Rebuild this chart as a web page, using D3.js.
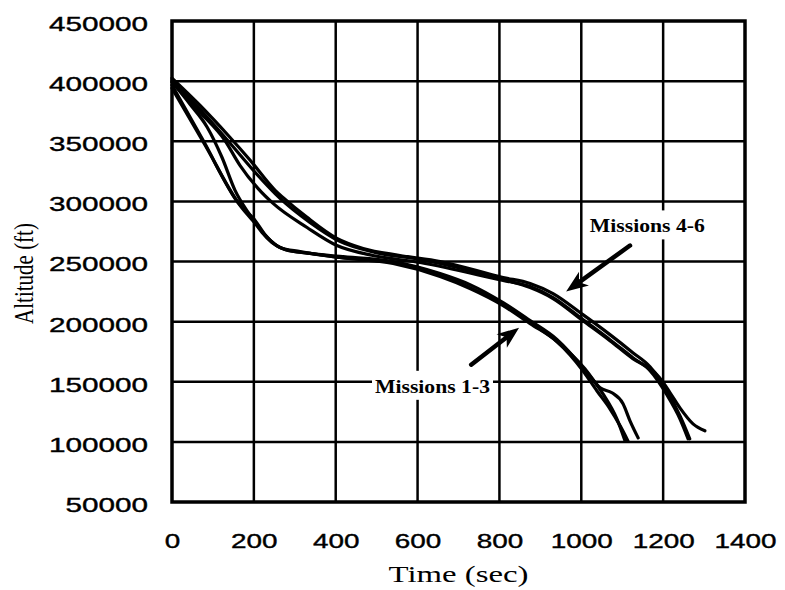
<!DOCTYPE html>
<html>
<head>
<meta charset="utf-8">
<script src="https://cdn.jsdelivr.net/npm/d3@7"></script>
<style>
  body { margin: 0; background: #fff; }
  svg { display: block; }
</style>
</head>
<body>
<svg id="chart" width="785" height="590"></svg>
<script>
// Axis ticks
const xTicks = [0, 200, 400, 600, 800, 1000, 1200, 1400];
const yTicks = [50000, 100000, 150000, 200000, 250000, 300000, 350000, 400000, 450000];

// Re-entry trajectories: [time (sec), altitude (ft)]
const mission1 = [[0,396700],[76,350800],[161,299200],[203,284200],[227,272500],[252,264200],[276,260000],[337,256700],[410,254200],[540,250000],[655,240000],[728,230800],[809,215800],[875,200800],[941,185000],[1004,161700],[1053,140000],[1087,119200],[1107,100800]];
const mission2 = [[0,394200],[81,346700],[166,296700],[208,280000],[235,269200],[264,261700],[313,258300],[410,253300],[540,248300],[655,237500],[728,227500],[809,213300],[875,198300],[941,183300],[1004,159200],[1038,142500],[1070,127500],[1095,113300],[1114,100800]];
const mission3 = [[0,399200],[44,380800],[86,361700],[122,336700],[154,309200],[186,290800],[220,274200],[244,265800],[276,260000],[337,256700],[410,253300],[540,249200],[655,239200],[728,228300],[809,214200],[875,199200],[941,183300],[1009,160800],[1046,145000],[1075,140800],[1102,131700],[1119,117500],[1139,103300]];
const mission4 = [[0,402500],[68,380000],[137,355000],[191,334200],[252,309200],[271,303300],[330,286700],[403,269200],[467,260800],[557,255000],[655,250000],[809,236700],[875,231700],[931,223300],[1004,205800],[1070,189200],[1126,174200],[1168,162500],[1209,142500],[1241,121700],[1265,102500]];
const mission5 = [[0,399200],[68,374200],[129,350800],[166,330000],[210,310800],[247,298300],[330,278300],[403,263300],[491,255000],[606,249200],[809,234200],[875,229200],[931,220000],[1004,201700],[1070,185000],[1126,170000],[1168,159200],[1209,139200],[1241,119200],[1261,102500]];
const mission6 = [[0,400800],[68,376700],[142,348300],[203,324200],[264,302500],[337,282500],[410,266700],[496,257500],[606,251700],[809,235000],[875,228300],[931,219200],[1004,200800],[1070,184200],[1126,169200],[1180,157500],[1197,150800],[1217,140800],[1241,128300],[1273,115000],[1302,109200]];

const missions = [mission1, mission2, mission3, mission4, mission5, mission6];

// Callout labels and the points their arrows run between
const labels = ["Missions 4-6", "Missions 1-3"];
const labelAnchors = [[1021, 274200], [496, 140800]];
const arrowTails = [[1119, 263300], [731, 164200]];
const arrowTips = [[963, 225000], [848, 195000]];

const svg = d3.select("#chart");
const margin = { left: 172, top: 21, right: 40, bottom: 88 };
const W = 785, H = 590;

const x = d3.scaleLinear().domain([0, 1400]).range([margin.left, W - margin.right]);
const y = d3.scaleLinear().domain([50000, 450000]).range([H - margin.bottom, margin.top]);

svg.append("rect").attr("width", W).attr("height", H).attr("fill", "#fff");

// Grid
const grid = svg.append("g").attr("stroke", "#000").attr("stroke-width", 2.5);
grid.selectAll("line.v").data(xTicks.slice(1, -1)).join("line")
  .attr("x1", d => x(d)).attr("x2", d => x(d))
  .attr("y1", y(450000)).attr("y2", y(50000));
grid.selectAll("line.h").data(yTicks.slice(1, -1)).join("line")
  .attr("y1", d => y(d)).attr("y2", d => y(d))
  .attr("x1", x(0)).attr("x2", x(1400));

// Tick labels (plain integers, wide sans)
const tickFont = "'Liberation Sans', Arial, Helvetica, sans-serif";
const fmt = d3.format("d");
const yAxis = d3.axisLeft(y).tickValues(yTicks).tickFormat(fmt).tickSize(0).tickPadding(24);
const gy = svg.append("g").attr("transform", `translate(${x(0)},0)`).call(yAxis);
gy.select(".domain").remove();
gy.selectAll("text")
  .attr("font-family", tickFont).attr("font-size", 21)
  .attr("fill", "#000").attr("stroke", "#000").attr("stroke-width", 0.4)
  .attr("dy", "0.45em")
  .attr("textLength", d => fmt(d).length * 16.5)
  .attr("lengthAdjust", "spacingAndGlyphs");

const xAxis = d3.axisBottom(x).tickValues(xTicks).tickFormat(fmt).tickSize(0).tickPadding(31);
const gx = svg.append("g").attr("transform", `translate(0,${y(50000)})`).call(xAxis);
gx.select(".domain").remove();
gx.selectAll("text")
  .attr("font-family", tickFont).attr("font-size", 21)
  .attr("fill", "#000").attr("stroke", "#000").attr("stroke-width", 0.4)
  .attr("textLength", d => fmt(d).length * 15.5)
  .attr("lengthAdjust", "spacingAndGlyphs");

// Frame
svg.append("rect")
  .attr("x", x(0)).attr("y", y(450000))
  .attr("width", x(1400) - x(0)).attr("height", y(50000) - y(450000))
  .attr("fill", "none").attr("stroke", "#000").attr("stroke-width", 3.5);

// Trajectories
const line = d3.line().x(d => x(d[0])).y(d => y(d[1])).curve(d3.curveMonotoneX);
svg.append("g").selectAll("path").data(missions).join("path")
  .attr("d", line)
  .attr("fill", "none").attr("stroke", "#000")
  .attr("stroke-width", 3.2).attr("stroke-linejoin", "round").attr("stroke-linecap", "round");

// Axis titles
const serif = "'Liberation Serif', 'Times New Roman', Times, serif";
svg.append("text")
  .attr("x", (x(0) + x(1400)) / 2).attr("y", 582)
  .attr("text-anchor", "middle")
  .attr("font-family", serif).attr("font-size", 23)
  .attr("textLength", 140).attr("lengthAdjust", "spacingAndGlyphs")
  .text("Time (sec)");
svg.append("text")
  .attr("transform", `translate(33,${(y(450000) + y(50000)) / 2 + 12}) scale(1.3,1) rotate(-90)`)
  .attr("text-anchor", "middle")
  .attr("font-family", serif).attr("font-size", 21)
  .text("Altitude (ft)");

// Callouts
const notes = svg.append("g");
labels.forEach((txt, i) => {
  const ax = x(labelAnchors[i][0]), ay = y(labelAnchors[i][1]);
  notes.append("rect")
    .attr("x", ax - 3).attr("y", ay - 22)
    .attr("width", 121).attr("height", 29)
    .attr("fill", "#fff");
  notes.append("text")
    .attr("x", ax).attr("y", ay)
    .attr("font-family", serif).attr("font-size", 19).attr("font-weight", "bold")
    .attr("textLength", 115).attr("lengthAdjust", "spacingAndGlyphs")
    .text(txt);

  const t0 = [x(arrowTails[i][0]), y(arrowTails[i][1])];
  const t1 = [x(arrowTips[i][0]), y(arrowTips[i][1])];
  const dx = t1[0] - t0[0], dy = t1[1] - t0[1];
  const len = Math.hypot(dx, dy);
  const ux = dx / len, uy = dy / len, nx = -uy, ny = ux;
  const L = 22, Wd = 8.5;
  notes.append("line")
    .attr("x1", t0[0]).attr("y1", t0[1])
    .attr("x2", t1[0] - ux * L * 0.6).attr("y2", t1[1] - uy * L * 0.6)
    .attr("stroke", "#000").attr("stroke-width", 4.5).attr("stroke-linecap", "round");
  const head = [
    [t1[0], t1[1]],
    [t1[0] - ux * L + nx * Wd, t1[1] - uy * L + ny * Wd],
    [t1[0] - ux * L * 0.72, t1[1] - uy * L * 0.72],
    [t1[0] - ux * L - nx * Wd, t1[1] - uy * L - ny * Wd]
  ];
  notes.append("path").attr("d", "M" + head.join("L") + "Z").attr("fill", "#000");
});
</script>
</body>
</html>
